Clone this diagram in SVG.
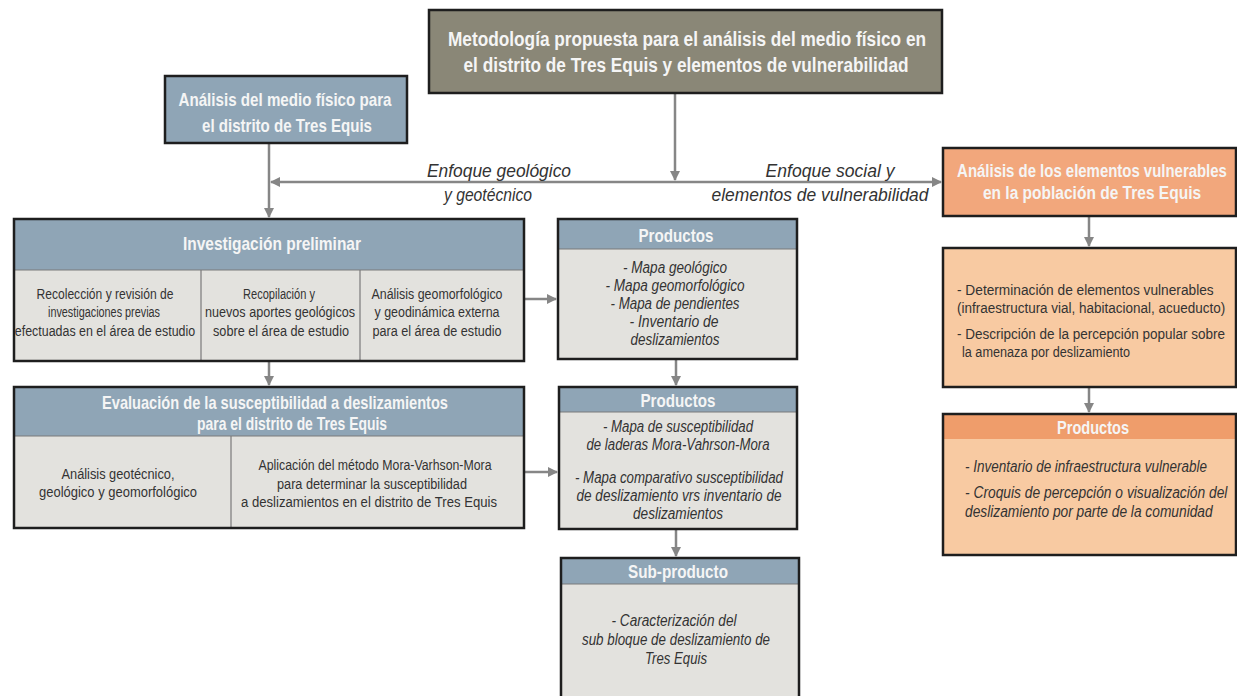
<svg xmlns="http://www.w3.org/2000/svg" width="1237" height="696" viewBox="0 0 1237 696">
<defs>
<marker id="ah" viewBox="0 0 10 10" refX="9" refY="5" markerWidth="4" markerHeight="4" orient="auto-start-reverse" markerUnits="strokeWidth">
<path d="M0,0 L10,5 L0,10 z" fill="#868686"/>
</marker>
</defs>
<style>
.box{stroke:#1e1e1e;stroke-width:2.5}
.hdrB{fill:#8fa5b6}
.body{fill:#e3e2de}
.ttl{font-family:"Liberation Sans",Arial,sans-serif;font-weight:bold;fill:#f5f5f5;text-anchor:middle}
.txt{font-family:"Liberation Sans",Arial,sans-serif;fill:#333;font-size:15.5px}
.it{font-family:"Liberation Sans",Arial,sans-serif;fill:#333;font-style:italic;font-size:16px;text-anchor:middle}
.lbl{font-family:"Liberation Sans",Arial,sans-serif;fill:#333;font-style:italic;font-size:19px;text-anchor:middle}
.c{text-anchor:middle}
.s{text-anchor:start}
.con{stroke:#868686;stroke-width:2.5;fill:none}
.div{stroke:#7a7a7a;stroke-width:1.2}
</style>
<rect width="1237" height="696" fill="#ffffff"/>

<g id="connectors">
<line class="con" x1="675" y1="93" x2="675" y2="180" marker-end="url(#ah)"/>
<line class="con" x1="271" y1="182" x2="941" y2="182" marker-start="url(#ah)" marker-end="url(#ah)"/>
<line class="con" x1="269" y1="143" x2="269" y2="217" marker-end="url(#ah)"/>
<line class="con" x1="524" y1="299" x2="556" y2="299" marker-end="url(#ah)"/>
<line class="con" x1="269" y1="361" x2="269" y2="385" marker-end="url(#ah)"/>
<line class="con" x1="524" y1="472" x2="557" y2="472" marker-end="url(#ah)"/>
<line class="con" x1="676" y1="359" x2="676" y2="385" marker-end="url(#ah)"/>
<line class="con" x1="676" y1="530" x2="676" y2="556" marker-end="url(#ah)"/>
<line class="con" x1="1089" y1="216" x2="1089" y2="246" marker-end="url(#ah)"/>
<line class="con" x1="1089" y1="387" x2="1089" y2="412" marker-end="url(#ah)"/>
<text class="lbl" x="499" y="177" textLength="144" lengthAdjust="spacingAndGlyphs">Enfoque geológico</text>
<text class="lbl" x="488" y="201" textLength="88" lengthAdjust="spacingAndGlyphs">y geotécnico</text>
<text class="lbl" x="830" y="177" textLength="129" lengthAdjust="spacingAndGlyphs">Enfoque social y</text>
<text class="lbl" x="820" y="201" textLength="217" lengthAdjust="spacingAndGlyphs">elementos de vulnerabilidad</text>
</g>

<g id="top">
<rect class="box" x="429" y="10" width="513" height="83" fill="#8a8777"/>
<text class="ttl" x="687" y="46" font-size="20" textLength="478" lengthAdjust="spacingAndGlyphs">Metodología propuesta para el análisis del medio físico en</text>
<text class="ttl" x="686" y="72" font-size="20" textLength="445" lengthAdjust="spacingAndGlyphs">el distrito de Tres Equis y elementos de vulnerabilidad</text>
</g>

<g id="medio-fisico">
<rect class="box hdrB" x="165" y="76" width="242" height="67"/>
<text class="ttl" x="285" y="106" font-size="19" textLength="213" lengthAdjust="spacingAndGlyphs">Análisis del medio físico para</text>
<text class="ttl" x="287" y="132" font-size="19" textLength="170" lengthAdjust="spacingAndGlyphs">el distrito de Tres Equis</text>
</g>

<g id="investigacion">
<rect class="body" x="14" y="219" width="510" height="142"/>
<rect class="hdrB" x="14" y="219" width="510" height="51"/>
<line class="div" x1="14" y1="270" x2="524" y2="270"/>
<line class="div" x1="201" y1="270" x2="201" y2="361"/>
<line class="div" x1="360" y1="270" x2="360" y2="361"/>
<rect class="box" x="14" y="219" width="510" height="142" fill="none"/>
<text class="ttl" x="272" y="250" font-size="19" textLength="178" lengthAdjust="spacingAndGlyphs">Investigación preliminar</text>
<text class="txt c" x="105" y="299" textLength="137" lengthAdjust="spacingAndGlyphs">Recolección y revisión de</text>
<text class="txt c" x="104" y="317" textLength="112" lengthAdjust="spacingAndGlyphs">investigaciones previas</text>
<text class="txt c" transform="matrix(0.82 0 0 1 105 336)" x="0" y="0" textLength="220" lengthAdjust="spacingAndGlyphs">efectuadas  en el área de estudio</text>
<text class="txt c" x="279" y="299" textLength="72" lengthAdjust="spacingAndGlyphs">Recopilación y</text>
<text class="txt c" transform="matrix(0.82 0 0 1 280 317)" x="0" y="0" textLength="183" lengthAdjust="spacingAndGlyphs">nuevos aportes geológicos</text>
<text class="txt c" x="281" y="336" textLength="136" lengthAdjust="spacingAndGlyphs">sobre el área de estudio</text>
<text class="txt c" x="437" y="299" textLength="131" lengthAdjust="spacingAndGlyphs">Análisis geomorfológico</text>
<text class="txt c" x="437" y="317" textLength="125" lengthAdjust="spacingAndGlyphs">y geodinámica externa</text>
<text class="txt c" x="437" y="336" textLength="129" lengthAdjust="spacingAndGlyphs">para el área de estudio</text>
</g>

<g id="evaluacion">
<rect class="body" x="14" y="387" width="510" height="141"/>
<rect class="hdrB" x="14" y="387" width="510" height="49"/>
<line class="div" x1="14" y1="436" x2="524" y2="436"/>
<line class="div" x1="231" y1="436" x2="231" y2="528"/>
<rect class="box" x="14" y="387" width="510" height="141" fill="none"/>
<text class="ttl" x="275" y="409" font-size="19" textLength="346" lengthAdjust="spacingAndGlyphs">Evaluación de la susceptibilidad a deslizamientos</text>
<text class="ttl" x="292" y="430" font-size="19" textLength="190" lengthAdjust="spacingAndGlyphs">para el distrito de Tres Equis</text>
<text class="txt c" x="118" y="479" textLength="113" lengthAdjust="spacingAndGlyphs">Análisis geotécnico,</text>
<text class="txt c" x="118" y="497" textLength="158" lengthAdjust="spacingAndGlyphs">geológico y geomorfológico</text>
<text class="txt c" x="375" y="470" textLength="233" lengthAdjust="spacingAndGlyphs">Aplicación del método Mora-Varhson-Mora</text>
<text class="txt c" x="372" y="489" textLength="190" lengthAdjust="spacingAndGlyphs">para determinar la susceptibilidad</text>
<text class="txt c" x="369" y="507" textLength="256" lengthAdjust="spacingAndGlyphs">a deslizamientos en el distrito de Tres Equis</text>
</g>

<g id="productos1">
<rect class="body" x="558" y="219" width="239" height="140"/>
<rect class="hdrB" x="558" y="219" width="239" height="30"/>
<line class="div" x1="558" y1="249" x2="797" y2="249"/>
<rect class="box" x="558" y="219" width="239" height="140" fill="none"/>
<text class="ttl" x="676" y="242" font-size="19" textLength="75" lengthAdjust="spacingAndGlyphs">Productos</text>
<text class="it" x="675" y="273" textLength="104" lengthAdjust="spacingAndGlyphs">- Mapa geológico</text>
<text class="it" x="675" y="291" textLength="139" lengthAdjust="spacingAndGlyphs">- Mapa geomorfológico</text>
<text class="it" x="675" y="309" textLength="129" lengthAdjust="spacingAndGlyphs">- Mapa de pendientes</text>
<text class="it" x="674" y="327" textLength="89" lengthAdjust="spacingAndGlyphs">- Inventario de</text>
<text class="it" x="675" y="345" textLength="89" lengthAdjust="spacingAndGlyphs">deslizamientos</text>
</g>

<g id="productos2">
<rect class="body" x="559" y="387" width="238" height="142"/>
<rect class="hdrB" x="559" y="387" width="238" height="25"/>
<line class="div" x1="559" y1="412" x2="797" y2="412"/>
<rect class="box" x="559" y="387" width="238" height="142" fill="none"/>
<text class="ttl" x="678" y="407" font-size="19" textLength="75" lengthAdjust="spacingAndGlyphs">Productos</text>
<text class="it" x="678" y="432" textLength="150" lengthAdjust="spacingAndGlyphs">- Mapa de susceptibilidad</text>
<text class="it" x="678" y="450" textLength="183" lengthAdjust="spacingAndGlyphs">de laderas Mora-Vahrson-Mora</text>
<text class="it" x="679" y="483" textLength="208" lengthAdjust="spacingAndGlyphs">- Mapa comparativo susceptibilidad</text>
<text class="it" x="679" y="501" textLength="205" lengthAdjust="spacingAndGlyphs">de deslizamiento vrs inventario de</text>
<text class="it" x="678" y="519" textLength="90" lengthAdjust="spacingAndGlyphs">deslizamientos</text>
</g>

<g id="subproducto">
<rect class="body" x="561" y="558" width="238" height="145"/>
<rect class="hdrB" x="561" y="558" width="238" height="26"/>
<line class="div" x1="561" y1="584" x2="799" y2="584"/>
<rect class="box" x="561" y="558" width="238" height="145" fill="none"/>
<text class="ttl" x="678" y="578" font-size="19" textLength="100" lengthAdjust="spacingAndGlyphs">Sub-producto</text>
<text class="it" x="674" y="626" textLength="125" lengthAdjust="spacingAndGlyphs">- Caracterización del</text>
<text class="it" x="676" y="645" textLength="188" lengthAdjust="spacingAndGlyphs">sub bloque de deslizamiento de</text>
<text class="it" x="676" y="664" textLength="62" lengthAdjust="spacingAndGlyphs">Tres Equis</text>
</g>

<g id="vulnerables">
<rect class="box" x="943" y="148" width="293" height="68" fill="#f2a77c"/>
<text class="ttl" font-size="19" transform="matrix(0.82 0 0 1 1092 177)" x="0" y="0" textLength="329" lengthAdjust="spacingAndGlyphs">Análisis de los elementos vulnerables</text>
<text class="ttl" font-size="19" transform="matrix(0.82 0 0 1 1092 199)" x="0" y="0" textLength="266" lengthAdjust="spacingAndGlyphs">en la población de Tres Equis</text>
</g>

<g id="determinacion">
<rect class="box" x="943" y="248" width="293" height="139" fill="#f8caa2"/>
<text class="txt s" transform="matrix(0.82 0 0 1 957 295)" x="0" y="0" textLength="313" lengthAdjust="spacingAndGlyphs">- Determinación de elementos vulnerables</text>
<text class="txt s" transform="matrix(0.82 0 0 1 957 313)" x="0" y="0" textLength="327" lengthAdjust="spacingAndGlyphs">(infraestructura vial, habitacional, acueducto)</text>
<text class="txt s" transform="matrix(0.82 0 0 1 957 339)" x="0" y="0" textLength="327" lengthAdjust="spacingAndGlyphs">- Descripción de la percepción popular sobre</text>
<text class="txt s" transform="matrix(0.82 0 0 1 962 357)" x="0" y="0" textLength="205" lengthAdjust="spacingAndGlyphs">la amenaza por deslizamiento</text>
</g>

<g id="productos3">
<rect x="943" y="414" width="293" height="141" fill="#f8caa2"/>
<rect x="943" y="414" width="293" height="25" fill="#ef9d6b"/>
<rect class="box" x="943" y="414" width="293" height="141" fill="none"/>
<text class="ttl" x="1093" y="434" font-size="19" textLength="72" lengthAdjust="spacingAndGlyphs">Productos</text>
<text class="it s" transform="matrix(0.82 0 0 1 965 472)" x="0" y="0" textLength="295" lengthAdjust="spacingAndGlyphs">- Inventario de infraestructura vulnerable</text>
<text class="it s" transform="matrix(0.82 0 0 1 965 498)" x="0" y="0" textLength="320" lengthAdjust="spacingAndGlyphs">- Croquis de percepción o visualización del</text>
<text class="it s" transform="matrix(0.82 0 0 1 965 517)" x="0" y="0" textLength="302" lengthAdjust="spacingAndGlyphs">deslizamiento por parte de la comunidad</text>
</g>
</svg>
